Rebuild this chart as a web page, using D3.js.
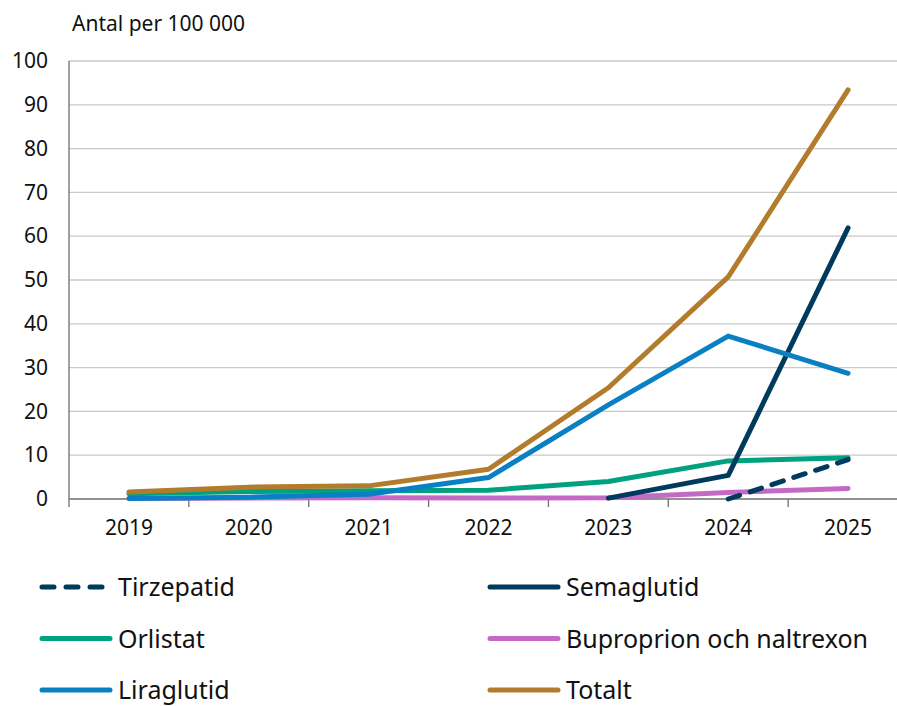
<!DOCTYPE html>
<html>
<head>
<meta charset="utf-8">
<script src="https://cdn.jsdelivr.net/npm/d3@7"></script>
<style>
  body { margin: 0; background: #fff; }
  svg { display: block; font-family: "Noto Sans", sans-serif; }
</style>
</head>
<body>
<div id="chart"></div>
<script>
var width = 897,
    height = 706;

// data
var years = ["2019", "2020", "2021", "2022", "2023", "2024", "2025"];
var yTicks = [0, 10, 20, 30, 40, 50, 60, 70, 80, 90, 100];

var tirzepatid = [null, null, null, null, null, 0, 9.0];
var semaglutid = [null, null, null, null, 0.2, 5.4, 61.9];
var orlistat = [1.2, 1.7, 1.9, 2.0, 4.0, 8.7, 9.4];
var bupropion = [0.1, 0.2, 0.3, 0.2, 0.3, 1.5, 2.4];
var liraglutid = [0.1, 0.4, 1.1, 4.9, 21.5, 37.2, 28.7];
var totalt = [1.6, 2.7, 3.0, 6.8, 25.4, 50.7, 93.4];

var seriesNames = ["Tirzepatid", "Semaglutid", "Orlistat", "Bupropion", "Liraglutid", "Totalt"];
var legendLabels = ["Tirzepatid", "Semaglutid", "Orlistat", "Buproprion och naltrexon", "Liraglutid", "Totalt"];
var seriesValues = [tirzepatid, semaglutid, orlistat, bupropion, liraglutid, totalt];
var colors = ["#003a5c", "#003a5c", "#00a17f", "#c46ac6", "#0a80c4", "#b27c2c"];
var dashed = [true, false, false, false, false, false];

var svg = d3.select("#chart")
  .append("svg")
  .attr("width", width)
  .attr("height", height);

var xScale = d3.scaleBand()
  .domain(years)
  .range([69, 908]);

var yScale = d3.scaleLinear()
  .domain([0, 100])
  .range([499, 61]);

// gridlines
svg.append("g")
  .selectAll("line")
  .data(yTicks.filter(function(d) { return d > 0; }))
  .enter()
  .append("line")
  .attr("x1", 69)
  .attr("x2", width)
  .attr("y1", function(d) { return yScale(d); })
  .attr("y2", function(d) { return yScale(d); })
  .attr("stroke", "#c9c9c9")
  .attr("stroke-width", 1.3);

// y axis
var yAxis = d3.axisLeft(yScale)
  .tickValues(yTicks)
  .tickSize(0)
  .tickPadding(21);

var gy = svg.append("g")
  .attr("transform", "translate(69,0)")
  .call(yAxis);
gy.select(".domain").remove();
gy.selectAll("text")
  .attr("font-size", 21)
  .attr("font-family", "Noto Sans")
  .attr("fill", "#111");

svg.append("line")
  .attr("x1", 69).attr("x2", 69)
  .attr("y1", 61).attr("y2", 507)
  .attr("stroke", "#6e6e6e")
  .attr("stroke-width", 1.3);

// x axis
var xAxis = d3.axisBottom(xScale)
  .tickSize(0)
  .tickPadding(21);

var gx = svg.append("g")
  .attr("transform", "translate(0," + yScale(0) + ")")
  .call(xAxis);
gx.select(".domain").remove();
gx.selectAll("text")
  .attr("font-size", 21)
  .attr("font-family", "Noto Sans")
  .attr("fill", "#111");

svg.append("line")
  .attr("x1", 69).attr("x2", width)
  .attr("y1", yScale(0)).attr("y2", yScale(0))
  .attr("stroke", "#6e6e6e")
  .attr("stroke-width", 1.3);

// ticks between categories
svg.append("g")
  .selectAll("line")
  .data(years.slice(1))
  .enter()
  .append("line")
  .attr("x1", function(d) { return xScale(d); })
  .attr("x2", function(d) { return xScale(d); })
  .attr("y1", yScale(0))
  .attr("y2", yScale(0) + 8)
  .attr("stroke", "#6e6e6e")
  .attr("stroke-width", 1.3);

// unit label
svg.append("text")
  .attr("x", 72)
  .attr("y", 31)
  .attr("font-size", 21)
  .attr("fill", "#111")
  .text("Antal per 100 000");

// lines
var line = d3.line()
  .defined(function(d) { return d != null; })
  .x(function(d, i) { return xScale(years[i]) + xScale.bandwidth() / 2; })
  .y(function(d) { return yScale(d); });

var drawOrder = [3, 2, 0, 1, 4, 5];
svg.append("g")
  .selectAll("path")
  .data(drawOrder)
  .enter()
  .append("path")
  .attr("d", function(k) { return line(seriesValues[k]); })
  .attr("fill", "none")
  .attr("stroke", function(k) { return colors[k]; })
  .attr("stroke-width", 5)
  .attr("stroke-linecap", "round")
  .attr("stroke-linejoin", "round")
  .attr("stroke-dasharray", function(k) { return dashed[k] ? "12,11" : null; });

// legend
var legend = svg.append("g")
  .selectAll("g")
  .data(seriesNames)
  .enter()
  .append("g")
  .attr("transform", function(d, i) {
    return "translate(" + (i % 2 === 0 ? 40 : 488) + "," + (587 + Math.floor(i / 2) * 51.5) + ")";
  });

legend.append("line")
  .attr("x1", 2)
  .attr("x2", 70)
  .attr("stroke", function(d, i) { return colors[i]; })
  .attr("stroke-width", 5)
  .attr("stroke-linecap", "round")
  .attr("stroke-dasharray", function(d, i) { return dashed[i] ? "12,12" : null; });

legend.append("text")
  .attr("x", 78)
  .attr("y", 9)
  .attr("font-size", 25)
  .attr("fill", "#111")
  .text(function(d, i) { return legendLabels[i]; });
</script>
</body>
</html>
